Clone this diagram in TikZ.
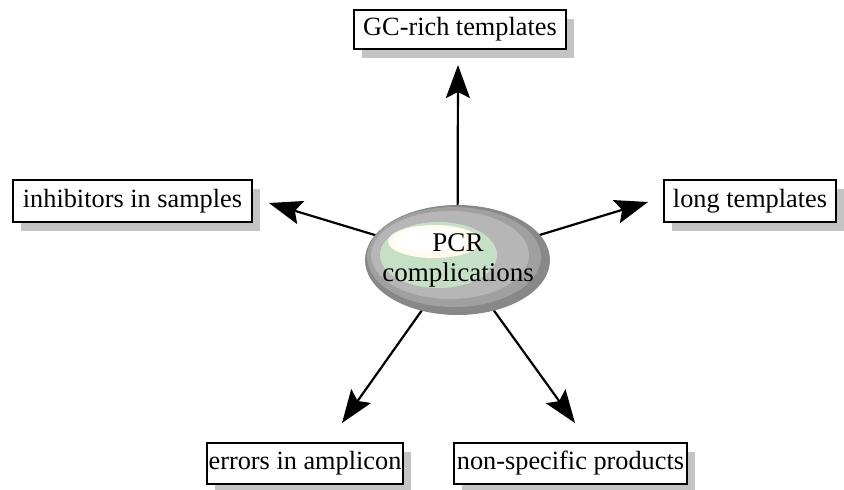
\documentclass[tikz,border=0pt]{standalone}
\usepackage{fontspec}
\setmainfont{Liberation Serif}
\usetikzlibrary{shadows,arrows.meta,shapes.geometric}
\pgfdeclarelayer{background}
\pgfsetlayers{background,main}
\definecolor{shadowgray}{HTML}{C4C4C4}
\definecolor{ring1}{HTML}{888888}
\definecolor{ring2}{HTML}{A0A0A0}
\definecolor{ring3}{HTML}{B6B6B6}
\definecolor{greenish}{HTML}{C6E0C6}
\definecolor{creamy}{HTML}{FFFCEE}
\tikzset{
  labelbox/.style={draw=black, line width=2.2pt, fill=white, inner sep=1pt,
    font=\fontsize{26.3}{30}\selectfont,
    drop shadow={shadow xshift=8pt, shadow yshift=-9pt, fill=shadowgray, opacity=1}},
  arr/.style={line width=2.2pt, -{Stealth[length=33pt, width=24pt, inset=6pt]}},
  layer/.style={ellipse, inner sep=0pt, draw=none}
}
\begin{document}
\begin{tikzpicture}[x=1pt,y=-1pt]
\useasboundingbox (0,0) rectangle (844,490);
% central ellipse, layered
\node[layer, fill=ring1, minimum width=185pt, minimum height=110pt] (c) at (457.5,260) {};
\node[layer, fill=ring2, minimum width=174pt, minimum height=100pt] (c2) at (454,257) {};
\node[layer, fill=ring3, minimum width=158pt, minimum height=88pt] (c3) at (450,255) {};
\node[layer, fill=greenish, minimum width=117pt, minimum height=66pt] (c4) at (438.5,255) {};
\node[layer, fill=creamy, minimum width=92pt, minimum height=33pt] (c5) at (434,241.5) {};
\node[layer, fill=white, minimum width=70pt, minimum height=24pt] (c6) at (430,240) {};
\node[align=center, font=\fontsize{27}{30}\selectfont, inner sep=0pt] (ct) at (458,260) {PCR\\complications};
% boxes
\node[labelbox, minimum width=212pt, minimum height=39pt] (gc) at (460,29.5) {GC-rich templates};
\node[labelbox, minimum width=239pt, minimum height=42pt] (inh) at (132.5,201) {inhibitors in samples};
\node[labelbox, minimum width=172pt, minimum height=42pt] (lng) at (750,201) {long templates};
\node[labelbox, minimum width=196pt, minimum height=41pt] (err) at (305,463.5) {errors in amplicon};
\node[labelbox, minimum width=233pt, minimum height=41pt] (nsp) at (570.5,463.5) {non-specific products};
% arrow tips
\coordinate (tgc) at (458,65);
\coordinate (tinh) at (269,203);
\coordinate (tlng) at (648,202);
\coordinate (terr) at (342,423);
\coordinate (tnsp) at (575,423);
\begin{pgfonlayer}{background}
\draw[arr] (c.center) -- (tgc);
\draw[arr] (c.center) -- (tinh);
\draw[arr] (c.center) -- (tlng);
\draw[arr] (c.center) -- (terr);
\draw[arr] (c.center) -- (tnsp);
\end{pgfonlayer}
\end{tikzpicture}
\end{document}
